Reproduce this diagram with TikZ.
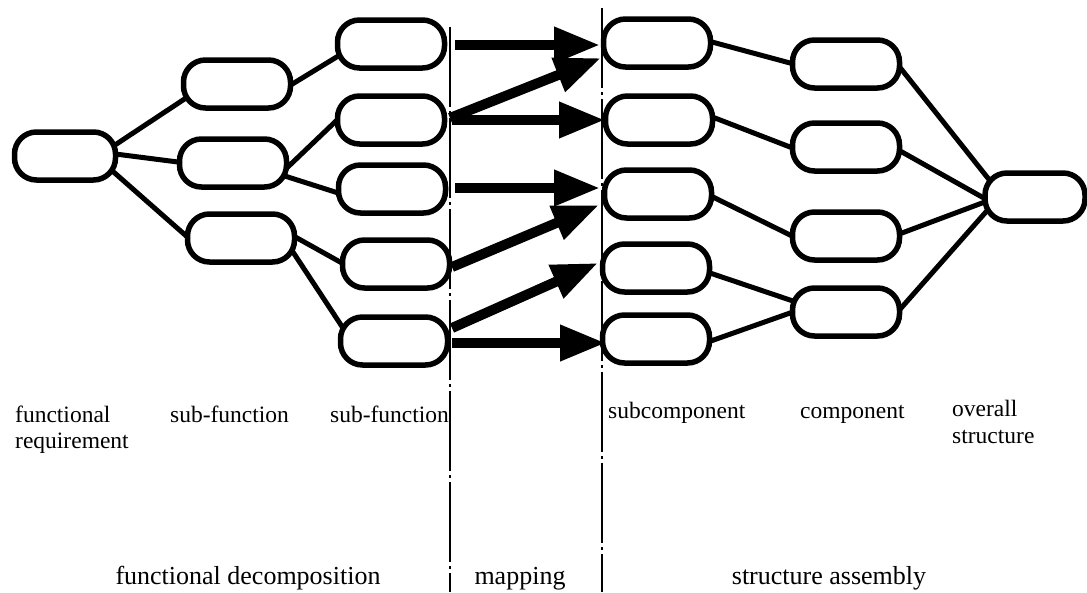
\documentclass[tikz,border=0pt]{standalone}
\usepackage{fontspec}
\setmainfont{Liberation Serif}
\usetikzlibrary{arrows.meta}
\pgfdeclarelayer{background}
\pgfsetlayers{background,main}

\begin{document}
\begin{tikzpicture}[x=1pt,y=-1pt,
  box/.style={draw, line width=5.5pt, rounded corners=22pt, fill=white,
    minimum width=107pt, minimum height=48pt, inner sep=0pt},
  link/.style={line width=5pt},
  maparrow/.style={line width=10pt, -{Triangle[length=46pt,width=34pt]}},
  divider/.style={line width=1.4pt, dash pattern=on 80pt off 4pt on 3pt off 4pt},
  lbl/.style={font=\fontsize{23.5}{28}\selectfont, inner sep=0pt, anchor=base west},
  phase/.style={font=\fontsize{26}{31}\selectfont, inner sep=0pt, anchor=base}]

\useasboundingbox (0,0) rectangle (1087,592);

% functional decomposition tree
\node[box, minimum width=101pt] (fr) at (65,156) {};
\node[box] (a1) at (237,84) {};
\node[box] (a2) at (233,163) {};
\node[box] (a3) at (241,238) {};
\node[box] (b1) at (391,44) {};
\node[box] (b2) at (391,120) {};
\node[box] (b3) at (392,189) {};
\node[box] (b4) at (396,264) {};
\node[box] (b5) at (394,341) {};

% structure assembly tree
\node[box] (c1) at (657,43) {};
\node[box] (c2) at (659,120) {};
\node[box] (c3) at (658,194) {};
\node[box] (c4) at (656,268) {};
\node[box] (c5) at (656,339) {};
\node[box] (d1) at (846,64) {};
\node[box] (d2) at (846,147) {};
\node[box] (d3) at (846,236) {};
\node[box] (d4) at (846,312) {};
\node[box, minimum width=100pt] (ov) at (1035,197) {};

\begin{pgfonlayer}{background}
  \fill[white] (0,0) rectangle (1087,592);
  % decomposition links
  \draw[link] ([shift={(44.7,-7.5)}]fr.center) -- ([shift={(-45.7,10.5)}]a1.center);
  \draw[link] ([shift={(48,-2.3)}]fr.center) -- ([shift={(-45,0.3)}]a2.center);
  \draw[link] ([shift={(44.5,12.4)}]fr.center) -- ([shift={(-49.5,2.6)}]a3.center);
  \draw[link] ([shift={(48.5,4.2)}]a1.center) -- ([shift={(-47.5,8.8)}]b1.center);
  \draw[link] ([shift={(51.8,6.9)}]a2.center) -- ([shift={(-48.8,-4.9)}]b2.center);
  \draw[link] ([shift={(45.5,11)}]a2.center) -- ([shift={(-47.5,6)}]b3.center);
  \draw[link] ([shift={(47.3,-4.9)}]a3.center) -- ([shift={(-45.3,3.9)}]b4.center);
  \draw[link] ([shift={(46.5,5.7)}]a3.center) -- ([shift={(-45.5,-4.6)}]b5.center);
  % assembly links
  \draw[link] ([shift={(45.4,-3.6)}]c1.center) -- ([shift={(-46.3,1.6)}]d1.center);
  \draw[link] ([shift={(46.7,-5.6)}]c2.center) -- ([shift={(-46.7,3.6)}]d2.center);
  \draw[link] ([shift={(46,-1.4)}]c3.center) -- ([shift={(-47,3.4)}]d3.center);
  \draw[link] ([shift={(44.5,1.8)}]c4.center) -- ([shift={(-46.5,-8.8)}]d4.center);
  \draw[link] ([shift={(42.6,6.3)}]c5.center) -- ([shift={(-46.6,-2.3)}]d4.center);
  \draw[link] ([shift={(49.8,-1.8)}]d1.center) -- ([shift={(-41.8,-12.2)}]ov.center);
  \draw[link] ([shift={(47.3,0.1)}]d2.center) -- ([shift={(-44.3,4.9)}]ov.center);
  \draw[link] ([shift={(46.6,0.5)}]d3.center) -- ([shift={(-43.6,2.5)}]ov.center);
  \draw[link] ([shift={(49.4,2.5)}]d4.center) -- ([shift={(-43.4,8.5)}]ov.center);
\end{pgfonlayer}

% phase dividers
\draw[divider] (450,27) -- (450,592);
\draw[divider] (602,8) -- (602,592);

% mapping arrows
\draw[maparrow] ([shift={(64,1)}]b1.center) -- ([shift={(-57,2)}]c1.center);
\draw[maparrow] ([shift={(59,-2)}]b2.center) -- ([shift={(-56,15)}]c1.center);
\draw[maparrow] ([shift={(61,0)}]b2.center) -- ([shift={(-54,0)}]c2.center);
\draw[maparrow] ([shift={(63,-1)}]b3.center) -- ([shift={(-58,-6)}]c3.center);
\draw[maparrow] ([shift={(56,3)}]b4.center) -- ([shift={(-59,11)}]c3.center);
\draw[maparrow] ([shift={(58,-13)}]b5.center) -- ([shift={(-58,-5)}]c4.center);
\draw[maparrow] ([shift={(58,2)}]b5.center) -- ([shift={(-50,4)}]c5.center);

% column labels
\node[lbl] (l1) at (15,422) {functional};
\node[lbl] (l1b) at (15,448) {requirement};
\node[lbl] (l2) at (170,422) {sub-function};
\node[lbl] (l3) at (330,422) {sub-function};
\node[lbl] (l4) at (608,418) {subcomponent};
\node[lbl] (l5) at (800,418) {component};
\node[lbl] (l6) at (952,416) {overall};
\node[lbl] (l6b) at (952,443) {structure};

% phase labels
\node[phase] (p1) at (248,584) {functional decomposition};
\node[phase] (p2) at (520,584) {mapping};
\node[phase] (p3) at (829,584) {structure assembly};
\end{tikzpicture}
\end{document}
